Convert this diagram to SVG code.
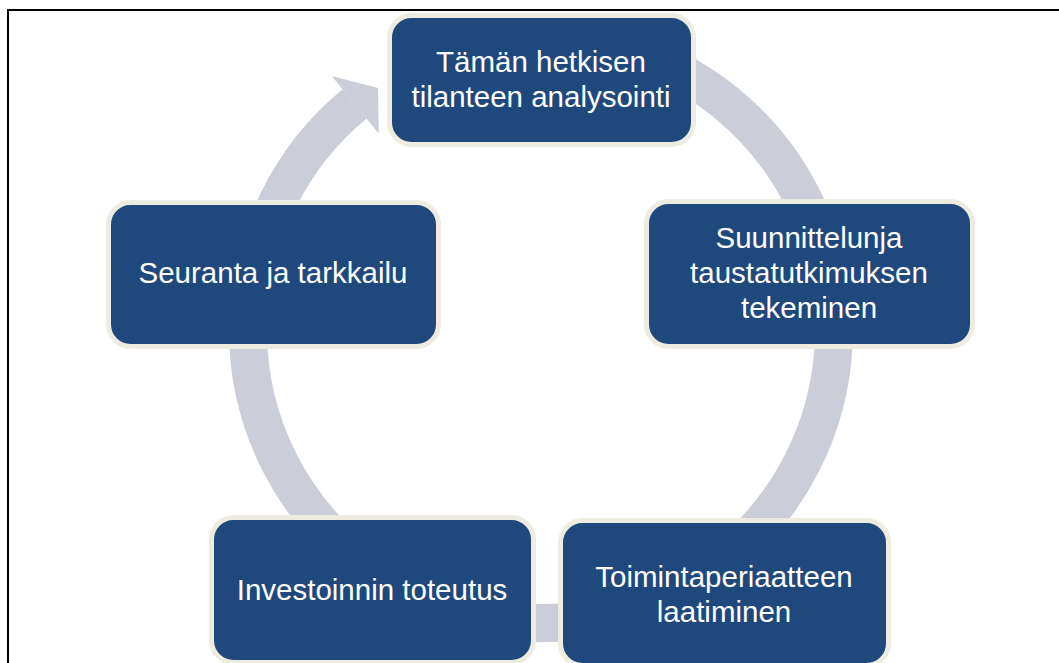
<svg xmlns="http://www.w3.org/2000/svg" width="1059" height="663" viewBox="0 0 1059 663">
<style>
.box{fill:#1F497D;stroke:#EEECE1;stroke-width:5}
.lbl{font-family:"Liberation Sans",Arial,sans-serif;font-size:29.5px;fill:#FFFFFF;text-anchor:middle}
.ring{fill:none;stroke:#CBCED9;stroke-width:38;stroke-linecap:butt}
.head{fill:#CBCED9}
</style>
<rect x="0" y="0" width="1059" height="663" fill="#FFFFFF"/>
<path d="M8,663 V10 H1059" fill="none" stroke="#000000" stroke-width="2"/>
<g id="connectors">
<path class="ring" d="M616.8,47 A293,293 0 1 1 354.6,103.9"/>
<polygon class="head" points="331.7,76.1 378,88 378.8,133.5"/>
</g>
<g id="node-analysointi">
<rect class="box" x="389.5" y="15.5" width="304" height="129" rx="22"/>
<text class="lbl" x="541" y="72">Tämän hetkisen</text>
<text class="lbl" x="541" y="107">tilanteen analysointi</text>
</g>
<g id="node-suunnittelu">
<rect class="box" x="646.5" y="201.5" width="326" height="145" rx="22"/>
<text class="lbl" x="809" y="248">Suunnittelunja</text>
<text class="lbl" x="809" y="283">taustatutkimuksen</text>
<text class="lbl" x="809" y="318">tekeminen</text>
</g>
<g id="node-toimintaperiaate">
<rect class="box" x="560.5" y="520.5" width="328" height="145" rx="22"/>
<text class="lbl" x="724" y="587">Toimintaperiaatteen</text>
<text class="lbl" x="724" y="622">laatiminen</text>
</g>
<g id="node-investointi">
<rect class="box" x="211.5" y="517.5" width="322" height="145" rx="22"/>
<text class="lbl" x="372" y="600">Investoinnin toteutus</text>
</g>
<g id="node-seuranta">
<rect class="box" x="108.5" y="202.5" width="330" height="144" rx="22"/>
<text class="lbl" x="273" y="283">Seuranta ja tarkkailu</text>
</g>
</svg>
